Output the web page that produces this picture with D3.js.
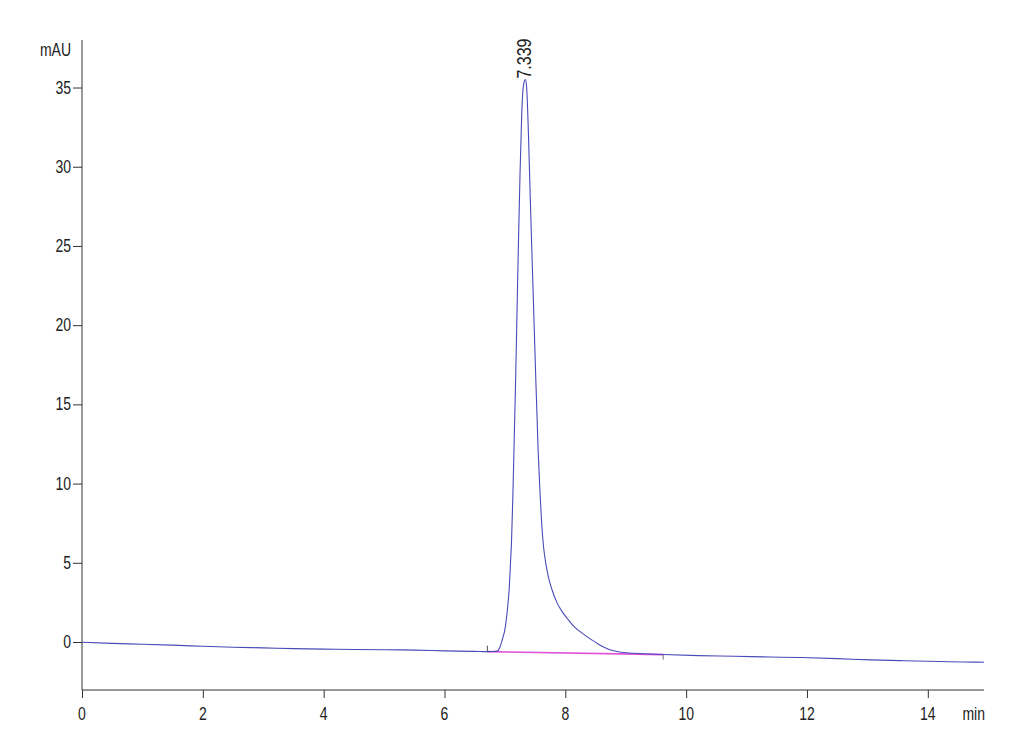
<!DOCTYPE html>
<html>
<head>
<meta charset="utf-8">
<script src="https://cdn.jsdelivr.net/npm/d3@7"></script>
<style>
  html, body { margin: 0; padding: 0; background: #fff; }
  svg { display: block; }
  text { font-family: "Liberation Sans", Arial, sans-serif; fill: #222; }
</style>
</head>
<body>
<svg id="chart" width="1030" height="755"></svg>
<script>
// ---- data ----
const traceTime = [
  0.0, 0.5, 1.0, 1.5, 2.0, 2.5, 3.0, 3.5, 4.0, 4.5, 5.0, 5.5, 6.0, 6.5, 6.7, 6.8, 6.88,
  6.92, 6.96, 7.00, 7.04, 7.07, 7.09, 7.11, 7.13, 7.15, 7.18, 7.22, 7.25, 7.28, 7.31, 7.339,
  7.36, 7.39, 7.42, 7.45, 7.50, 7.55, 7.58, 7.61, 7.64, 7.68, 7.72, 7.78, 7.86, 7.95, 8.05,
  8.15, 8.30, 8.45, 8.60, 8.75, 8.90, 9.05, 9.30, 9.62, 10.2, 10.8, 11.4, 11.9, 12.5, 13.05, 13.6, 14.2, 14.6, 14.93
];
const traceMAU = [
  -0.02, -0.09, -0.14, -0.2, -0.27, -0.33, -0.37, -0.42, -0.45, -0.47, -0.49, -0.51, -0.56, -0.59, -0.61, -0.6, -0.56,
  -0.3, 0.2, 0.8, 2.0, 3.3, 4.8, 6.4, 9.0, 12.1, 17.0, 24.5, 29.5, 33.5, 35.2, 35.5,
  35.0, 32.0, 28.0, 24.2, 18.0, 12.1, 9.5, 7.4, 6.0, 4.9, 4.1, 3.3, 2.5, 1.9, 1.4,
  0.95, 0.5, 0.1, -0.25, -0.5, -0.63, -0.69, -0.74, -0.79, -0.86, -0.9, -0.95, -0.98, -1.05, -1.13, -1.18, -1.23, -1.26, -1.28
];
const peakLabels = [{ time: 7.339, height: 35.5, text: "7.339" }];
const integrationBaseTime = [6.71, 9.62];
const integrationBaseMAU = [-0.61, -0.80];
const xMajorTicks = [0, 2, 4, 6, 8, 10, 12, 14];
const xMinorTicks = d3.range(0, 15, 0.5);
const yMajorTicks = [0, 5, 10, 15, 20, 25, 30, 35];
const yMinorTicks = d3.range(-3, 39, 1);
const xUnit = "min";
const yUnit = "mAU";

// ---- layout ----
const svg = d3.select("#chart");
const x = d3.scaleLinear().domain([0, 14.93]).range([82, 984]);
const y = d3.scaleLinear().domain([-3.03, 38.0]).range([690, 40]);
const axisColor = "#333";
const stretch = 1.25;

// stretched text helper (reference font is tall and narrow)
function tallText(tx, ty, str, size, anchor, rot) {
  return svg.append("text")
    .attr("transform", `translate(${tx},${ty})${rot ? ` rotate(${rot})` : ""} scale(1,${stretch})`)
    .attr("text-anchor", anchor)
    .attr("font-size", size)
    .text(str);
}

// x axis
const gx = svg.append("g").attr("transform", "translate(0,690)");
gx.call(d3.axisBottom(x).tickValues(xMinorTicks).tickSize(5).tickFormat(""));
gx.call(d3.axisBottom(x).tickValues(xMajorTicks).tickSize(8).tickFormat(""));
gx.selectAll("path.domain").attr("d", `M${x.range()[0]},0H${x.range()[1]}`);
gx.selectAll("path, line").attr("stroke", axisColor);
xMajorTicks.forEach(t => tallText(x(t), 720, d3.format("d")(t), 14, "middle"));

// y axis
const gy = svg.append("g").attr("transform", "translate(82,0)");
gy.call(d3.axisLeft(y).tickValues(yMinorTicks).tickSize(5).tickFormat(""));
gy.call(d3.axisLeft(y).tickValues(yMajorTicks).tickSize(9).tickFormat(""));
gy.selectAll("path.domain").attr("d", `M0,${y.range()[1]}V${y.range()[0]}`);
gy.selectAll("path, line").attr("stroke", axisColor);
yMajorTicks.forEach(v => tallText(71, y(v) + 6, d3.format("d")(v), 14, "end"));

// unit labels
tallText(71, 56, yUnit, 14, "end");
tallText(985, 720, xUnit, 14, "end");

// integration baseline (pink)
svg.append("line")
  .attr("x1", x(integrationBaseTime[0])).attr("y1", y(integrationBaseMAU[0]))
  .attr("x2", x(integrationBaseTime[1])).attr("y2", y(integrationBaseMAU[1]))
  .attr("stroke", "#e050d8").attr("stroke-width", 1.6);

// integration event markers
svg.append("line")
  .attr("x1", x(integrationBaseTime[0])).attr("x2", x(integrationBaseTime[0]))
  .attr("y1", y(integrationBaseMAU[0])).attr("y2", y(integrationBaseMAU[0]) - 6)
  .attr("stroke", "#555").attr("stroke-width", 1);
svg.append("line")
  .attr("x1", x(integrationBaseTime[1])).attr("x2", x(integrationBaseTime[1]))
  .attr("y1", y(integrationBaseMAU[1])).attr("y2", y(integrationBaseMAU[1]) + 5)
  .attr("stroke", "#777").attr("stroke-width", 1);

// trace
const pts = traceTime.map((t, i) => [t, traceMAU[i]]);
const line = d3.line().x(d => x(d[0])).y(d => y(d[1])).curve(d3.curveMonotoneX);
svg.append("path").datum(pts)
  .attr("d", line)
  .attr("fill", "none")
  .attr("stroke", "#4a4ab8")
  .attr("stroke-width", 1.1)
  .attr("stroke-linejoin", "round");

// peak labels
peakLabels.forEach(p => {
  tallText(x(p.time) + 6, y(p.height) - 1, p.text, 16, "start", -90);
});
</script>
</body>
</html>
